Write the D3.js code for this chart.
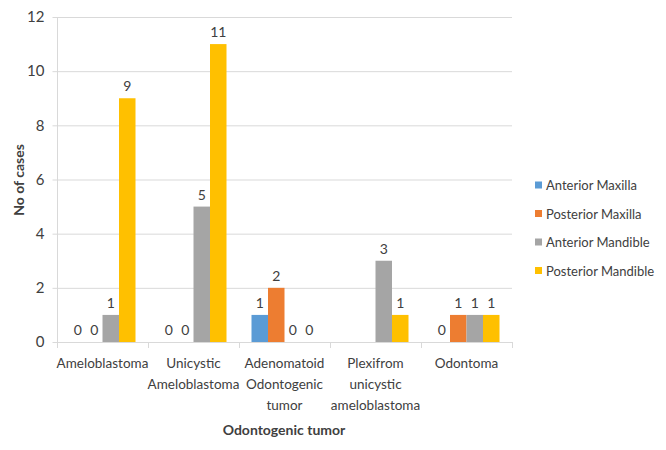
<!DOCTYPE html>
<html><head><meta charset="utf-8">
<script src="https://cdn.jsdelivr.net/npm/d3@7"></script>
<style>body{margin:0;background:#fff}svg{display:block}text{font-family:Lato,"Open Sans",sans-serif;fill:#404040}</style>
</head><body><svg id="c" width="666" height="450"></svg>
<script>
const categories = [["Ameloblastoma"],["Unicystic","Ameloblastoma"],["Adenomatoid","Odontogenic","tumor"],["Plexifrom","unicystic","ameloblastoma"],["Odontoma"]];
const seriesNames = ["Anterior Maxilla","Posterior Maxilla","Anterior Mandible","Posterior Mandible"];
const anteriorMaxilla = [0,0,1,null,0];
const posteriorMaxilla = [0,0,2,null,1];
const anteriorMandible = [1,5,0,3,1];
const posteriorMandible = [9,11,0,1,1];
const yTicks = [0,2,4,6,8,10,12];
const colors = ["#5B9BD5","#ED7D31","#A5A5A5","#FFC000"];
const series = [anteriorMaxilla,posteriorMaxilla,anteriorMandible,posteriorMandible];

const svg = d3.select("#c");
const pL=57,pR=512,pT=17,pB=342;
const x = d3.scaleBand().domain(d3.range(categories.length)).range([pL,pR]);
const y = d3.scaleLinear().domain([0,12]).range([pB,pT]);
const bw = 16.5;

// gridlines
svg.append("g").selectAll("line").data(yTicks.filter(d=>d>0)).join("line")
  .attr("x1",pL).attr("x2",pR).attr("y1",d=>y(d)+0.5).attr("y2",d=>y(d)+0.5)
  .attr("stroke","#D9D9D9").attr("stroke-width",1);
// y axis
const ya = svg.append("g").attr("transform",`translate(${pL+0.5},0)`).call(d3.axisLeft(y).tickValues(yTicks).tickSize(5).tickPadding(8));
ya.select(".domain").attr("stroke","#D9D9D9").attr("d",`M0,${pT}V${pB}`);
ya.selectAll(".tick line").attr("stroke","#D9D9D9");
ya.selectAll(".tick text").style("font-size","15px").attr("fill","#404040").style("font-family","Lato,'Open Sans',sans-serif");

// bars
categories.forEach((c,i)=>{
  const cx = x(i)+x.bandwidth()/2;
  series.forEach((s,j)=>{
    const v=s[i]; if(v==null) return;
    const bx = cx-2*bw+j*bw;
    if(v>0) svg.append("rect").attr("x",bx).attr("y",y(v)).attr("width",bw).attr("height",y(0)-y(v)).attr("fill",colors[j]);
    svg.append("text").attr("x",bx+bw/2).attr("y",y(v)-7).attr("text-anchor","middle").style("font-size","14px").text(v);
  });
});

// x baseline and ticks
svg.append("line").attr("x1",pL).attr("x2",pR).attr("y1",pB+0.5).attr("y2",pB+0.5).attr("stroke","#D9D9D9");
svg.append("g").selectAll("line").data(d3.range(categories.length+1)).join("line")
  .attr("x1",i=>(i<categories.length?x(i):pR)+0.5).attr("x2",i=>(i<categories.length?x(i):pR)+0.5)
  .attr("y1",pB).attr("y2",pB+6).attr("stroke","#D9D9D9");
// category labels
categories.forEach((c,i)=>{
  const t=svg.append("text").attr("x",x(i)+x.bandwidth()/2).attr("y",368).attr("text-anchor","middle").style("font-size","13.5px");
  c.forEach((l,k)=>t.append("tspan").attr("x",x(i)+x.bandwidth()/2).attr("dy",k?21:0).text(l));
});
// axis titles
svg.append("text").attr("x",284).attr("y",435).attr("text-anchor","middle").style("font-size","14px").style("font-weight","bold").attr("fill","#262626").text("Odontogenic tumor");
svg.append("text").attr("transform","translate(24,180) rotate(-90)").attr("text-anchor","middle").style("font-size","14px").style("font-weight","bold").attr("fill","#262626").text("No of cases");

// legend
seriesNames.forEach((n,j)=>{
  const ly = 185+j*28.5;
  svg.append("rect").attr("x",535).attr("y",ly-3.5).attr("width",7).attr("height",7).attr("fill",colors[j]);
  svg.append("text").attr("x",546).attr("y",ly+5).style("font-size","13px").text(n);
});
</script></body></html>
